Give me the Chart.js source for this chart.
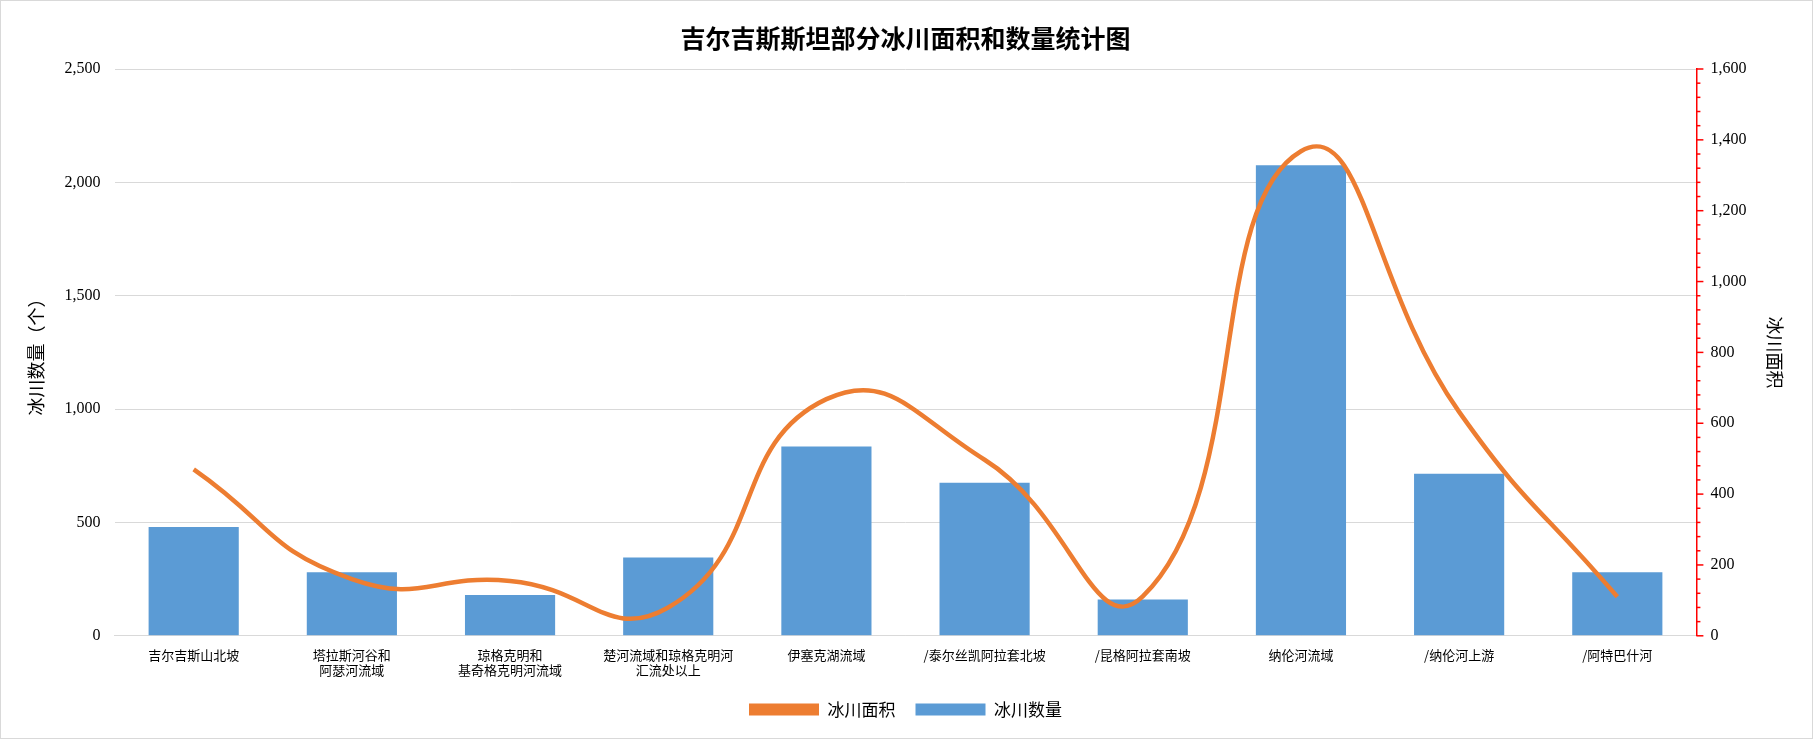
<!DOCTYPE html>
<html><head><meta charset="utf-8">
<script src="https://cdn.jsdelivr.net/npm/chart.js@4"></script>
<style>html,body{margin:0;padding:0;background:#fff}#w{width:1811px;height:737px;border:1px solid #d9d9d9;position:relative}</style>
</head><body><div id="w"><canvas id="c"></canvas></div>
<script>
const categories=[["吉尔吉斯山北坡"],["塔拉斯河谷和","阿瑟河流域"],["琼格克明和","基奇格克明河流域"],["楚河流域和琼格克明河","汇流处以上"],["伊塞克湖流域"],["/泰尔丝凯阿拉套北坡"],["/昆格阿拉套南坡"],["纳伦河流域"],["/纳伦河上游"],["/阿特巴什河"]];
const glacierCount=[480,280,180,345,835,675,160,2075,715,280];
const glacierArea=[470,160,155,80,668,497,111,1368,632,110];
const cjk="'Noto Sans CJK SC', sans-serif";
const serif="'Liberation Serif', serif";
const minorTicks={id:'minor',afterDraw(ch){const s=ch.scales.y1,ctx=ch.ctx;ctx.save();ctx.strokeStyle='#ff0000';ctx.lineWidth=1.5;
for(let v=0;v<=1600;v+=40){const y=s.getPixelForValue(v);const len=v%200===0?7:4;ctx.beginPath();ctx.moveTo(s.left,y);ctx.lineTo(s.left+len,y);ctx.stroke();}
ctx.restore();}};
new Chart(document.getElementById('c'),{
data:{labels:categories,datasets:[
{type:'line',label:'冰川面积',data:glacierArea,yAxisID:'y1',borderColor:'#ed7d31',backgroundColor:'#ed7d31',borderWidth:4.5,pointRadius:0,tension:0.5,cubicInterpolationMode:'default',order:0},
{type:'bar',label:'冰川数量',data:glacierCount,yAxisID:'y',backgroundColor:'#5b9bd5',categoryPercentage:1,barPercentage:0.57,order:1}
]},
options:{responsive:true,maintainAspectRatio:false,animation:false,
layout:{padding:{left:20,right:22,top:8,bottom:10}},
elements:{line:{capBezierPoints:false}},
plugins:{title:{display:true,text:'吉尔吉斯斯坦部分冰川面积和数量统计图',font:{family:cjk,size:25},color:'#000',padding:{top:14,bottom:16}},
legend:{position:'bottom',reverse:true,labels:{font:{family:cjk,size:17},color:'#000',boxWidth:70,boxHeight:12,padding:20,
generateLabels(ch){return [{text:'冰川数量',fillStyle:'#5b9bd5',strokeStyle:'#5b9bd5',lineWidth:0,datasetIndex:1},{text:'冰川面积',fillStyle:'#ed7d31',strokeStyle:'#ed7d31',lineWidth:0,datasetIndex:0,boxHeight:5}]}}},
tooltip:{enabled:false}},
scales:{
x:{grid:{display:false},border:{color:'#d9d9d9'},ticks:{font:{family:cjk,size:13},color:'#000',maxRotation:0,autoSkip:false}},
y:{position:'left',min:0,max:2500,ticks:{stepSize:500,font:{family:serif,size:16},color:'#000',padding:14},grid:{color:'#d9d9d9',drawTicks:false},border:{display:false},
title:{display:true,text:'冰川数量（个）',font:{family:cjk,size:18},color:'#000'}},
y1:{position:'right',min:0,max:1600,ticks:{stepSize:200,font:{family:serif,size:16},color:'#000',padding:14},grid:{display:false,drawTicks:false},border:{color:'#ff0000',width:1.5},
title:{display:true,text:'冰川面积',font:{family:cjk,size:18},color:'#000'}}
}},plugins:[minorTicks]});
</script></body></html>
